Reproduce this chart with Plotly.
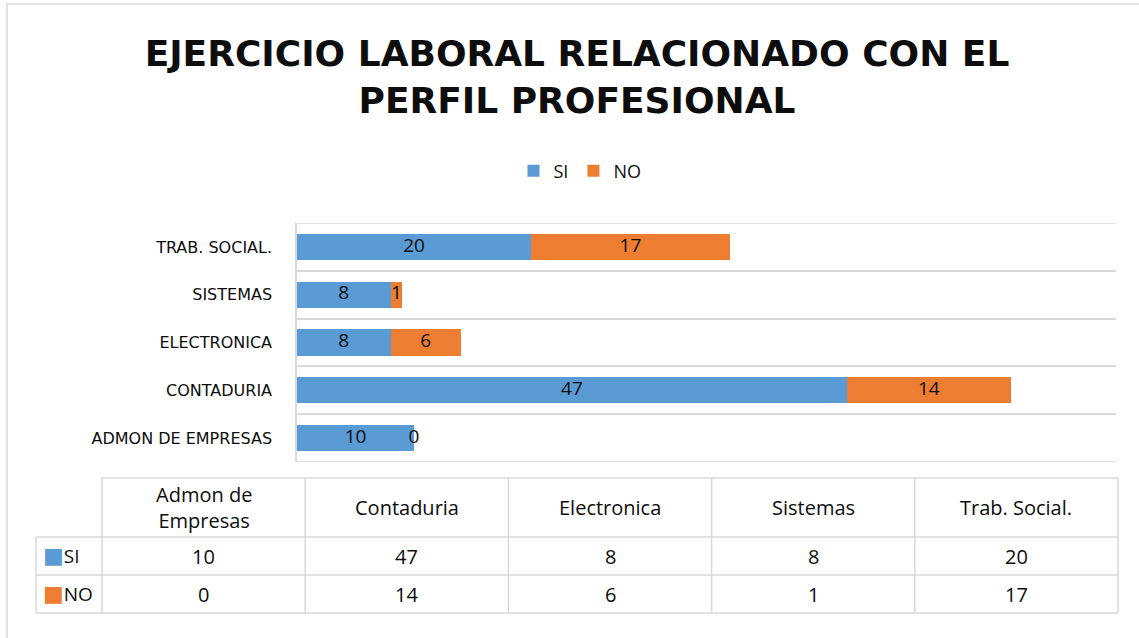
import plotly.graph_objects as go

# ---------------- data ----------------
categories = ["Admon de Empresas", "Contaduria", "Electronica", "Sistemas", "Trab. Social."]
table_headers = ["Admon de<br>Empresas", "Contaduria", "Electronica", "Sistemas", "Trab. Social."]
series_names = ["SI", "NO"]
si_values = [10, 47, 8, 8, 20]
no_values = [0, 14, 6, 1, 17]
series_colors = ["#5B9BD5", "#ED7D31"]
title_text = "EJERCICIO LABORAL RELACIONADO CON EL<br>PERFIL PROFESIONAL"

W, H = 1139, 638


def px(x):
    return x / W


def py(y):
    return 1 - y / H


GRID = "#D9D9D9"
TXT = "#0d0d0d"

fig = go.Figure()

series_values = [si_values, no_values]
for name, vals, col in zip(series_names, series_values, series_colors):
    fig.add_trace(go.Bar(
        y=categories, x=vals, name=name, orientation="h",
        marker=dict(color=col, line=dict(width=0)),
        width=0.55, hoverinfo="x+y+name",
    ))

# data labels centred in each segment (drawn through the axes)
si_mid = [v / 2 for v in si_values]
no_mid = [s + n / 2 for s, n in zip(si_values, no_values)]
for mids, vals in ((si_mid, si_values), (no_mid, no_values)):
    fig.add_trace(go.Scatter(
        x=mids, y=categories, mode="text", text=[str(v) for v in vals],
        textposition="middle center",
        textfont=dict(family="Open Sans", size=19, color=TXT),
        showlegend=False, hoverinfo="skip", cliponaxis=False,
    ))

fig.update_layout(
    width=W, height=H,
    margin=dict(l=0, r=0, t=0, b=0),
    paper_bgcolor="white", plot_bgcolor="white",
    barmode="stack",
    title=dict(
        text=title_text, x=px(577), xanchor="center", y=py(66), yanchor="middle",
        font=dict(family="DejaVu Sans", size=36, color=TXT, weight="bold"),
    ),
    legend=dict(
        orientation="h", x=px(580), xanchor="center", y=py(171), yanchor="middle",
        font=dict(family="Open Sans", size=18, color=TXT),
        itemwidth=30, traceorder="normal", bgcolor="rgba(0,0,0,0)",
    ),
    xaxis=dict(domain=[px(297), px(1116)], range=[0, 70], visible=False,
               showgrid=False, zeroline=False, fixedrange=True),
    yaxis=dict(domain=[py(462), py(223)], range=[-0.5, 4.5],
               type="category", tickson="boundaries", showgrid=True,
               gridcolor=GRID, gridwidth=1.5, showline=True, linecolor=GRID,
               linewidth=1.5, ticks="", ticklabelstandoff=20,
               tickfont=dict(family="DejaVu Sans", size=16, color=TXT,
                             textcase="upper"),
               zeroline=False, fixedrange=True),
    showlegend=True,
)

shapes = []
# outer chart frame
shapes.append(dict(type="rect", xref="paper", yref="paper",
                   x0=px(7), x1=px(1150), y0=py(4), y1=py(650),
                   line=dict(color=GRID, width=1.5), layer="below"))
# outer category boundaries of the plot area (top and bottom grid lines)
for yb in (-0.5, len(categories) - 0.5):
    shapes.append(dict(type="line", xref="x domain", yref="y", x0=0, x1=1, y0=yb, y1=yb,
                       line=dict(color=GRID, width=1.5), layer="below"))

# ---------------- data table ----------------
col_left = 102
col_w = (1118 - 102) / len(categories)
row_hdr_left = 36
y_top, y_hdr, y_r1, y_r2 = 478, 537, 575, 613
col_edges = [col_left + i * col_w for i in range(len(categories) + 1)]

line = dict(color=GRID, width=1.5)
shapes.append(dict(type="line", xref="paper", yref="paper", x0=px(col_left), x1=px(col_edges[-1]),
                   y0=py(y_top), y1=py(y_top), line=line))
for yy in (y_hdr, y_r1, y_r2):
    shapes.append(dict(type="line", xref="paper", yref="paper", x0=px(row_hdr_left), x1=px(col_edges[-1]),
                       y0=py(yy), y1=py(yy), line=line))
shapes.append(dict(type="line", xref="paper", yref="paper", x0=px(row_hdr_left), x1=px(row_hdr_left),
                   y0=py(y_hdr), y1=py(y_r2), line=line))
for xx in col_edges:
    shapes.append(dict(type="line", xref="paper", yref="paper", x0=px(xx), x1=px(xx),
                       y0=py(y_top), y1=py(y_r2), line=line))

annotations = []
tfont = dict(family="Open Sans", size=20, color=TXT)
for i, hdr in enumerate(table_headers):
    cx = (col_edges[i] + col_edges[i + 1]) / 2
    annotations.append(dict(text=hdr, x=px(cx), y=py((y_top + y_hdr) / 2), xref="paper", yref="paper",
                            showarrow=False, xanchor="center", yanchor="middle", font=tfont))
row_bounds = [(y_hdr, y_r1), (y_r1, y_r2)]
for (name, vals, col), (r0, r1) in zip(zip(series_names, series_values, series_colors), row_bounds):
    cy = (r0 + r1) / 2
    annotations.append(dict(
        text=f"<span style='color:{col};font-size:22px;font-family:DejaVu Sans'>■</span>{name}",
        x=px(row_hdr_left + 5), y=py(cy),
        xref="paper", yref="paper", showarrow=False, xanchor="left", yanchor="middle",
        font=dict(family="Open Sans", size=19, color=TXT)))
    for i, v in enumerate(vals):
        cx = (col_edges[i] + col_edges[i + 1]) / 2
        annotations.append(dict(text=str(v), x=px(cx), y=py(cy), xref="paper", yref="paper",
                                showarrow=False, xanchor="center", yanchor="middle", font=tfont))

fig.update_layout(shapes=shapes, annotations=annotations)

fig.write_html("out.html", config={"displayModeBar": False},
               post_script="document.body.style.margin='0';document.body.style.overflow='hidden';")
